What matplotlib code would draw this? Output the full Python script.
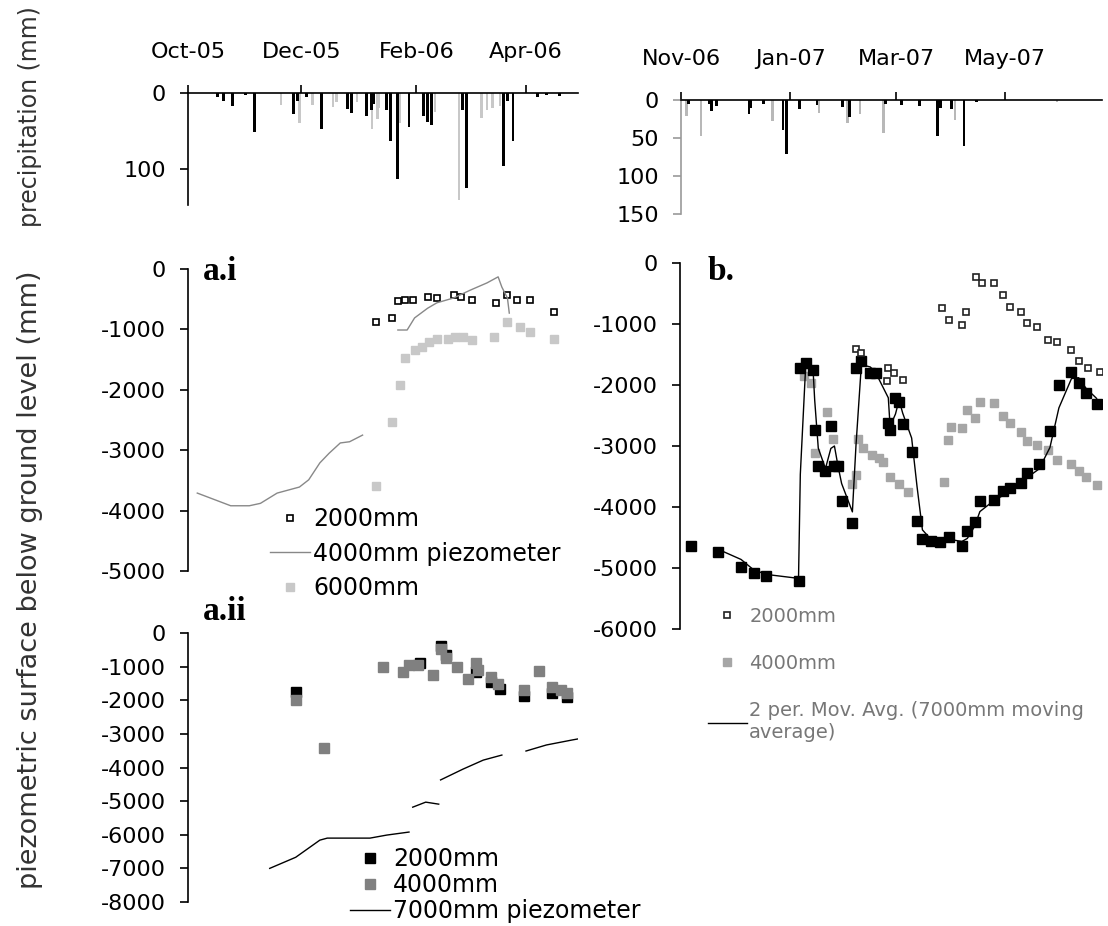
import numpy as np
import pandas as pd
from matplotlib import pyplot as plt

# ---- data (x = days from start of each record) ----
start_a = '2005-10-01'
start_b = '2006-11-01'
months_a = ['2005-10-01', '2005-12-01', '2006-02-01', '2006-04-01']
months_b = ['2006-11-01', '2007-01-01', '2007-03-01', '2007-05-01']

# precipitation, period a
rain_a_black_day = [16, 19, 24, 31, 36, 57, 59, 64, 72, 86, 88, 96, 99, 100, 107, 109, 113, 119, 127, 129, 131, 148, 150, 170, 172, 175, 188, 193, 200]
rain_a_black_mm = [5, 10, 17, 3, 52, 28, 10, 5, 48, 21, 27, 30, 22, 15, 23, 63, 113, 45, 30, 38, 42, 23, 125, 96, 10, 64, 5, 3, 4]
rain_a_grey_day = [50, 60, 67, 78, 80, 91, 99, 102, 103, 114, 133, 146, 158, 161, 164, 168]
rain_a_grey_mm = [16, 40, 16, 18, 12, 12, 47, 35, 20, 40, 25, 142, 33, 22, 20, 17]

# precipitation, period b
rain_b_black_day = [4, 16, 17, 20, 38, 39, 46, 57, 59, 66, 76, 90, 94, 114, 123, 133, 143, 145, 151, 158, 165]
rain_b_black_mm = [5, 5, 14, 8, 18, 10, 5, 40, 71, 12, 7, 9, 23, 5, 7, 8, 48, 10, 12, 61, 2]
rain_b_grey_day = [3, 11, 51, 77, 93, 100, 113, 153, 210]
rain_b_grey_mm = [21, 47, 27, 17, 30, 19, 43, 26, 3]

# a.i
ai_2000_day = [101, 110, 113, 117, 121, 129, 134, 143, 147, 153, 166, 172, 177, 184, 197]
ai_2000_mm = [-875, -815, -530, -510, -515, -460, -485, -430, -460, -510, -570, -430, -510, -510, -710]
ai_4000_day = [5, 23, 33, 39, 48, 60, 65, 71, 76, 82, 87, 94, 100, 113, 118, 122, 129, 134, 143, 152, 161, 167, 169, 172, 173]
ai_4000_mm = [-3710, -3920, -3920, -3880, -3710, -3610, -3490, -3210, -3050, -2880, -2860, -2750, np.nan,
              -1010, -1010, -810, -650, -560, -480, -350, -230, -130, -300, -480, -730]
ai_6000_day = [101, 110, 114, 117, 122, 126, 130, 134, 140, 144, 148, 153, 165, 172, 179, 184, 197]
ai_6000_mm = [-3600, -2540, -1920, -1480, -1340, -1290, -1210, -1160, -1160, -1130, -1130, -1170, -1130, -870, -960, -1040, -1160]

# a.ii
aii_2000_day = [58, 125, 136, 139, 155, 163, 168, 181, 196, 204]
aii_2000_mm = [-1750, -890, -390, -650, -1150, -1450, -1670, -1870, -1780, -1910]
aii_4000_day = [58, 73, 105, 116, 119, 124, 132, 136, 139, 145, 151, 155, 156, 163, 167, 181, 189, 196, 201, 204]
aii_4000_mm = [-2000, -3420, -1010, -1160, -950, -950, -1250, -480, -740, -1010, -1370, -890, -1100, -1310, -1520, -1700, -1130, -1610, -1700, -1780]
aii_7000_day = [44, 58, 71, 75, 98, 107, 119, 120, 121, 128, 135, 135.5, 136, 148, 159, 169, 175, 182, 193, 207, 210]
aii_7000_mm = [-7000, -6670, -6160, -6100, -6100, -6010, -5920, np.nan, -5180, -5030, -5090, np.nan,
               -4370, -4050, -3780, -3630, np.nan, -3510, -3330, -3180, -3150]

# b
b_2000_day = [98, 101, 115, 116, 119, 124, 146, 150, 157, 159, 165, 168, 175, 180, 184, 190, 193, 199, 205, 210, 218, 222, 227, 234]
b_2000_mm = [-1410, -1480, -1940, -1720, -1800, -1920, -740, -930, -1020, -800, -230, -330, -330, -520, -720, -800, -980, -1050, -1260, -1300, -1430, -1610, -1720, -1790]
b_4000_day = [69, 73, 75, 82, 85, 96, 98, 99, 102, 107, 111, 113, 117, 122, 127, 147, 149, 151, 157, 160, 164, 167, 175, 180, 184, 190, 193, 199, 205, 210, 218, 222, 226, 232]
b_4000_mm = [-1850, -1960, -3110, -2440, -2890, -3620, -3480, -2880, -3030, -3150, -3200, -3260, -3500, -3620, -3750, -3590, -2900, -2690, -2700, -2410,
             -2540, -2280, -2300, -2510, -2620, -2770, -2920, -2980, -3070, -3230, -3300, -3410, -3510, -3640]
b_7000_day = [6, 21, 34, 41, 48, 66, 67, 70, 74, 75, 77, 81, 84, 86, 88, 90, 96, 98, 101, 106, 109, 116, 117, 120, 122,
              124, 129, 132, 135, 140, 145, 150, 157, 160, 164, 167, 175, 180, 184, 190, 193, 200, 206, 211, 218, 222, 226, 232]
b_7000_mm = [-4640, -4740, -4980, -5080, -5130, -5210, -1720, -1640, -1750, -2740, -3330, -3410, -2670, -3330, -3330, -3900,
             -4260, -1720, -1610, -1800, -1800, -2620, -2740, -2210, -2280, -2640, -3100, -4230, -4520, -4560, -4570, -4490,
             -4640, -4390, -4250, -3900, -3880, -3740, -3690, -3600, -3450, -3300, -2750, -2000, -1790, -1970, -2130, -2310]

W, H = 1108, 926
XMAX_A, XMAX_B = 210, 235

plt.rcParams['font.family'] = 'DejaVu Sans'
plt.rcParams['axes.unicode_minus'] = False
fig = plt.figure(figsize=(W / 100, H / 100), dpi=100)


def box(x0, y0, x1, y1):
    return [x0 / W, 1 - y1 / H, (x1 - x0) / W, (y1 - y0) / H]


def style_left(ax, spine_col='black'):
    for s in ['top', 'right', 'bottom']:
        ax.spines[s].set_visible(False)
    ax.spines['left'].set_color(spine_col)
    ax.spines['left'].set_linewidth(1.2)
    ax.tick_params(axis='y', direction='out', length=6, width=1.2, pad=10,
                   labelsize=16, color=spine_col)
    ax.set_xticks([])


def rain_axes(rect, start, months, xmax, ymax, yticks, spine_col):
    ax = fig.add_axes(rect)
    style_left(ax, spine_col)
    ax.spines['top'].set_visible(True)
    ax.spines['top'].set_linewidth(1.2)
    ax.set_xlim(0, xmax)
    ax.set_ylim(ymax, 0)
    ax.set_yticks(yticks)
    ticks = [int((np.datetime64(m) - np.datetime64(start)).astype(int)) for m in months]
    ax.xaxis.tick_top()
    ax.set_xticks(ticks)
    ax.set_xticklabels([pd.Timestamp(m).strftime('%b-%y') for m in months])
    ax.tick_params(axis='x', direction='out', length=6, width=1.2, pad=16, labelsize=16)
    return ax


# precipitation panels
ax_ra = rain_axes(box(188, 93, 578, 205), start_a, months_a, XMAX_A, 148, [0, 100], 'black')
ax_ra.bar(rain_a_grey_day, rain_a_grey_mm, width=1.3, color='#c8c8c8', linewidth=0)
ax_ra.bar(rain_a_black_day, rain_a_black_mm, width=1.5, color='black', linewidth=0)

ax_rb = rain_axes(box(681, 100, 1102, 214), start_b, months_b, XMAX_B, 150, [0, 50, 100, 150], '#999999')
ax_rb.bar(rain_b_grey_day, rain_b_grey_mm, width=1.3, color='#b8b8b8', linewidth=0)
ax_rb.bar(rain_b_black_day, rain_b_black_mm, width=1.5, color='black', linewidth=0)

# a.i
ax1 = fig.add_axes(box(188, 269, 578, 571))
style_left(ax1)
ax1.set_xlim(0, XMAX_A)
ax1.set_ylim(-5000, 0)
ax1.set_yticks(range(-5000, 1, 1000))
ax1.plot(ai_2000_day, ai_2000_mm, ls='none', marker='s', ms=5, mfc='white', mec='black', mew=1.2, label='2000mm')
ax1.plot(ai_4000_day, ai_4000_mm, color='#888888', lw=1, label='4000mm piezometer')
ax1.plot(ai_6000_day, ai_6000_mm, ls='none', marker='s', ms=6, mfc='#c8c8c8', mec='#c8c8c8', label='6000mm')
ax1.legend(loc='upper left', bbox_to_anchor=(270 / W, 1 - 507 / H), bbox_transform=fig.transFigure,
           frameon=False, borderpad=0, borderaxespad=0, handlelength=1.7, handletextpad=0.12,
           labelspacing=0.45, fontsize=17, numpoints=1)
fig.text(203 / W, 1 - 280 / H, 'a.i', fontsize=24, fontweight='bold', family='Liberation Serif')

# a.ii
ax2 = fig.add_axes(box(188, 633, 578, 902))
style_left(ax2)
ax2.set_xlim(0, XMAX_A)
ax2.set_ylim(-8000, 0)
ax2.set_yticks(range(-8000, 1, 1000))
ax2.plot(aii_2000_day, aii_2000_mm, ls='none', marker='s', ms=6.5, mfc='black', mec='black', label='2000mm')
ax2.plot(aii_4000_day, aii_4000_mm, ls='none', marker='s', ms=7, mfc='#808080', mec='#808080', label='4000mm')
ax2.plot(aii_7000_day, aii_7000_mm, color='black', lw=1, label='7000mm piezometer')
ax2.legend(loc='upper left', bbox_to_anchor=(350 / W, 1 - 847 / H), bbox_transform=fig.transFigure,
           frameon=False, borderpad=0, borderaxespad=0, handlelength=1.7, handletextpad=0.12,
           labelspacing=0.08, fontsize=17, numpoints=1)
fig.text(203 / W, 1 - 620 / H, 'a.ii', fontsize=24, fontweight='bold', family='Liberation Serif')

# b
ax3 = fig.add_axes(box(680, 263, 1102, 629))
style_left(ax3)
ax3.set_xlim(0, XMAX_B)
ax3.set_ylim(-6000, 0)
ax3.set_yticks(range(-6000, 1, 1000))
mov_avg = pd.Series(b_7000_mm).rolling(2).mean()
h4 = ax3.plot(b_4000_day, b_4000_mm, ls='none', marker='s', ms=6, mfc='#a6a6a6', mec='#a6a6a6', label='4000mm')[0]
hl = ax3.plot(b_7000_day, mov_avg, color='black', lw=1,
              label='2 per. Mov. Avg. (7000mm moving\naverage)')[0]
ax3.plot(b_7000_day, b_7000_mm, ls='none', marker='s', ms=6.5, mfc='black', mec='black')
h2 = ax3.plot(b_2000_day, b_2000_mm, ls='none', marker='s', ms=5, mfc='white', mec='#222222', mew=1.2, label='2000mm')[0]
leg = ax3.legend([h2, h4, hl], [h2.get_label(), h4.get_label(), hl.get_label()],
                 loc='upper left', bbox_to_anchor=(708 / W, 1 - 607 / H), bbox_transform=fig.transFigure,
                 frameon=False, borderpad=0, borderaxespad=0, handlelength=2.0, handletextpad=0.12,
                 labelspacing=1.45, fontsize=14, numpoints=1)
for t in leg.get_texts():
    t.set_color('#777777')
fig.text(708 / W, 1 - 280 / H, 'b.', fontsize=24, fontweight='bold', family='Liberation Serif')

# axis titles
fig.text(30 / W, 1 - 117 / H, 'precipitation (mm)', rotation=90, ha='center', va='center',
         fontsize=17, color='#333333')
fig.text(30 / W, 1 - 580 / H, 'piezometric surface below ground level (mm)', rotation=90,
         ha='center', va='center', fontsize=19.5, color='#333333')

fig.savefig('out.png', dpi=100)
